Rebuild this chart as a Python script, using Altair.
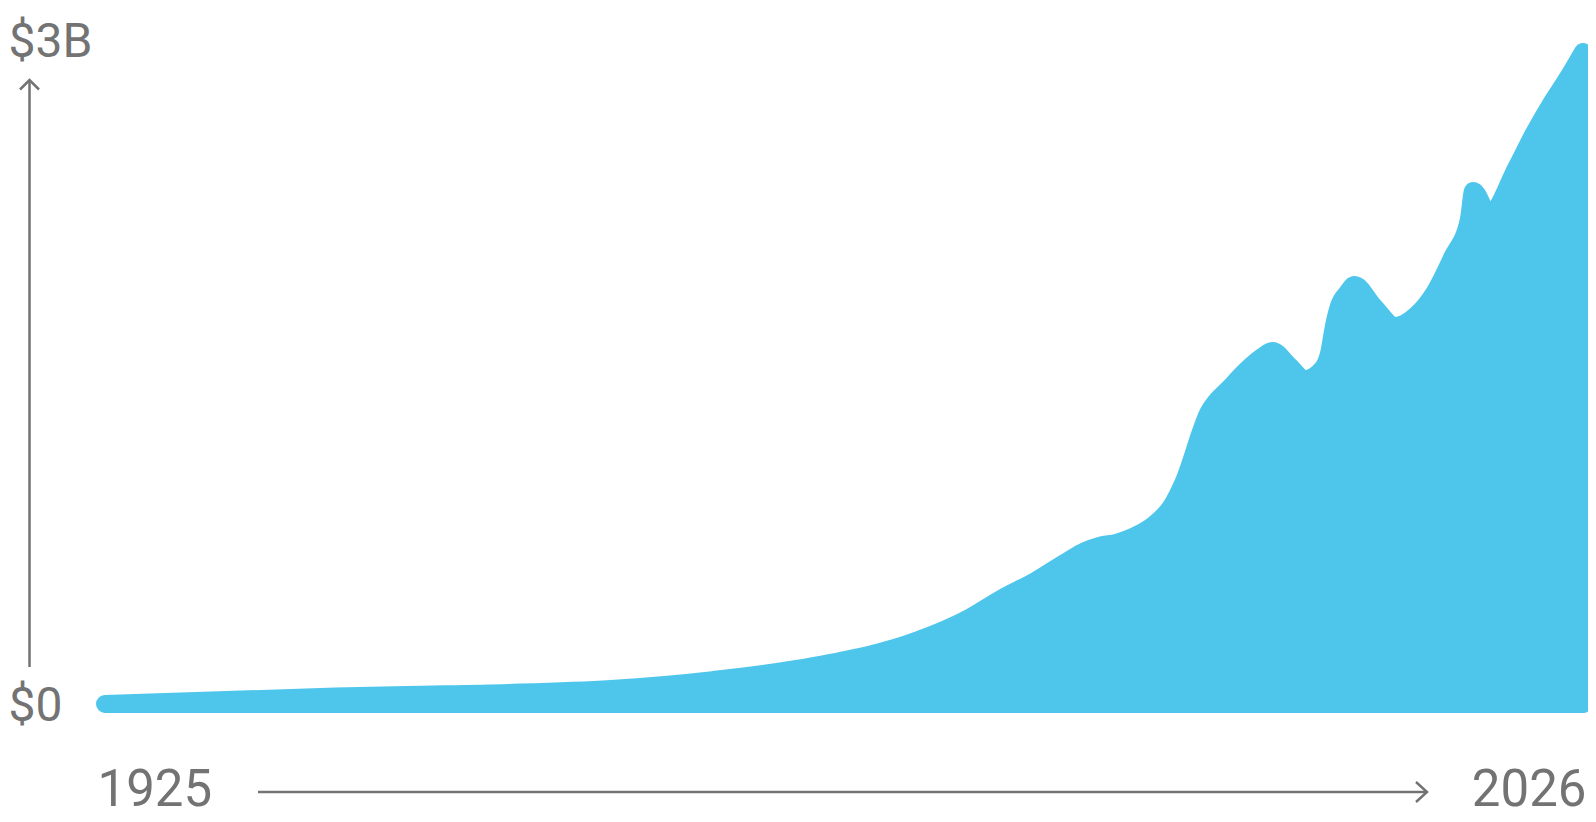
import altair as alt
import pandas as pd

# Values (year, billions of dollars)
years = [1925, 1940.75, 1945.6, 1952.55, 1959.58, 1966.53, 1973.49, 1980.51,
         1984.06, 1986.35, 1988.6, 1990.92, 1991.95, 1993.01, 1994.17, 1995.36,
         1996.65, 1997.92, 1998.67, 2000.42, 2001.93, 2003.02, 2004.08,
         2004.79, 2005.88, 2006.98, 2008.2, 2008.66, 2008.95, 2009.32, 2009.88,
         2010.39, 2011.68, 2013.18, 2014.63, 2015.88, 2017.08, 2018.2, 2018.5,
         2019.59, 2021.47, 2022.63, 2023.78, 2024.95, 2026]
values_b = [0.0, 0.034, 0.041, 0.050, 0.068, 0.108, 0.172, 0.287,
            0.389, 0.480, 0.557, 0.652, 0.690, 0.715, 0.729, 0.758,
            0.809, 0.898, 0.996, 1.318, 1.434, 1.510, 1.569,
            1.595, 1.532, 1.468, 1.516, 1.588, 1.697, 1.797, 1.857,
            1.893, 1.799, 1.708, 1.759, 1.862, 2.020, 2.188, 2.318,
            2.214, 2.426, 2.576, 2.708, 2.828, 2.946]

x_ticks = [1925, 2026]
y_ticks = [0, 3]
y_tick_labels = ["$0", "$3B"]

df = pd.DataFrame({"year": years, "value": values_b})

BLUE = "#4EC6EC"
GRAY = "#737373"
FONT = "Roboto"

label_expr = "datum.value == 0 ? '%s' : '%s'" % (y_tick_labels[0], y_tick_labels[1])
first_tick = "datum.value <= %d" % x_ticks[0]

area = alt.Chart(df).mark_area(
    color=BLUE, stroke=BLUE, strokeWidth=18, strokeJoin="round",
    strokeCap="round", interpolate="monotone", opacity=1,
).encode(
    x=alt.X("year:Q",
            scale=alt.Scale(domain=[1925, 2026], nice=False, zero=False),
            axis=alt.Axis(values=x_ticks, format="d", title=None, grid=False,
                          domain=False, ticks=False, tickSize=0,
                          labelPadding=101, labelBaseline="alphabetic",
                          labelFlush=False,
                          labelAlign={"condition": {"test": first_tick, "value": "left"},
                                      "value": "right"},
                          labelOffset={"condition": {"test": first_tick, "value": -8},
                                       "value": 3},
                          labelFont=FONT, labelFontSize=51,
                          labelColor=GRAY)),
    y=alt.Y("value:Q",
            scale=alt.Scale(domain=[0, 3], nice=False),
            axis=alt.Axis(values=y_ticks, labelExpr=label_expr, title=None,
                          grid=False, domain=False, ticks=False, tickSize=0,
                          labelAlign="left", labelBaseline="alphabetic",
                          labelPadding=97, labelOffset=16.5,
                          labelFont=FONT, labelFontSize=48,
                          labelColor=GRAY)),
)

one = alt.Data(values=[{"k": 0}])

y_shaft = alt.Chart(one).mark_rule(color=GRAY, strokeWidth=2.5).encode(
    x=alt.value(-75.5), y=alt.value(40), y2=alt.value(627))
y_head = alt.Chart(one).mark_point(
    shape="M-1,1L0,0L1,1", filled=False, stroke=GRAY, strokeWidth=2.5,
    opacity=1, size=361).encode(x=alt.value(-75.5), y=alt.value(40))

x_shaft = alt.Chart(one).mark_rule(color=GRAY, strokeWidth=2.5).encode(
    x=alt.value(153), x2=alt.value(1322), y=alt.value(752))
x_head = alt.Chart(one).mark_point(
    shape="M-1.1,-1L0,0L-1.1,1", filled=False, stroke=GRAY, strokeWidth=2.5,
    opacity=1, size=400).encode(x=alt.value(1322), y=alt.value(752))

chart = alt.layer(area, y_shaft, y_head, x_shaft, x_head).properties(
    width=1478, height=664,
    autosize=alt.AutoSizeParams(type="none"),
    padding={"left": 97, "top": 32, "right": 5, "bottom": 104},
    background="white",
).configure_view(strokeWidth=0)

chart.save("out.html", embed_options={"renderer": "svg", "actions": False})
